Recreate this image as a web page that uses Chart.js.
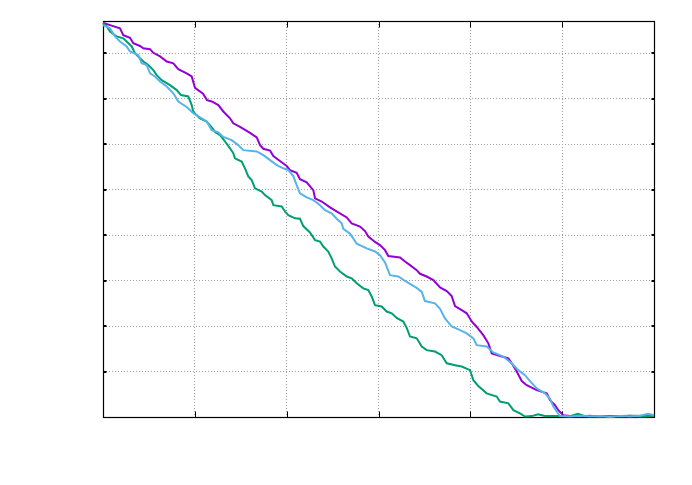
<!DOCTYPE html>
<html>
<head>
<meta charset="utf-8">
<script src="https://cdn.jsdelivr.net/npm/chart.js@4.4.1/dist/chart.umd.min.js"></script>
<style>
  html, body { margin: 0; padding: 0; background: #fff; }
  #wrap { width: 692px; height: 485px; }
</style>
</head>
<body>
<div id="wrap"><canvas id="plot" width="692" height="485"></canvas></div>
<script>
// values (x: 0..60, y: 0..87.1)
const xPurple = [0,0.76,1.85,2.21,2.94,3.30,4.03,4.39,5.12,5.48,
  6.21,6.94,7.66,8.20,9.11,9.66,10.02,10.89,11.33,11.84,
  12.56,13.10,13.83,14.19,14.92,16.01,16.74,17.10,17.46,18.19,
  18.55,19.27,20.00,20.36,21.09,21.45,22.18,22.90,23.09,23.82,
  24.72,25.62,26.54,27.08,27.99,28.53,28.89,29.62,30.16,30.71,
  31.07,32.34,32.89,33.43,34.16,34.52,35.25,35.97,36.70,37.43,
  37.97,38.33,39.06,39.61,40.15,40.69,41.41,41.96,42.33,43.23,
  44.14,44.51,45.05,45.60,46.14,47.23,48.32,48.68,49.22,49.58,
  50.13,50.85,51.94,53.03,54.12,55.21,56.30,57.39,58.48,60];
const yPurple = [86.7,86.2,85.5,84.0,83.4,82.2,81.6,81.1,80.9,80.1,
  79.3,78.2,77.8,76.5,75.6,74.9,72.4,71.1,69.7,69.4,
  68.6,67.2,65.7,64.6,63.8,62.5,61.5,59.8,59.0,58.6,
  57.4,56.3,55.2,54.3,53.7,52.3,51.6,49.9,48.1,47.4,
  46.1,45.0,43.9,42.6,41.9,40.9,39.7,38.5,37.8,36.7,
  35.4,35.1,34.2,33.4,32.3,31.5,30.9,30.1,28.5,27.7,
  26.6,24.4,23.5,22.8,21.0,19.8,18.0,16.2,14.0,13.4,
  12.9,11.8,10.0,7.9,7.0,5.9,5.2,3.7,2.6,1.5,
  0.4,0.2,0.1,0.3,0.0,0.2,0.1,0.3,0.0,0.2];

const xGreen = [0,0.40,0.76,1.49,2.21,2.58,3.13,3.48,4.03,4.39,
  4.93,5.48,5.85,6.39,7.30,8.03,8.49,9.29,9.66,9.83,
  10.56,11.29,11.84,12.20,12.74,13.29,13.83,14.19,14.37,15.10,
  15.46,15.82,16.19,16.55,17.28,17.64,18.37,18.55,19.46,19.82,
  20.18,20.91,21.45,21.81,22.54,23.09,23.63,23.99,24.53,24.90,
  25.26,25.81,26.54,27.08,27.63,28.35,28.89,29.26,29.62,30.35,
  30.89,31.44,31.98,32.70,33.07,33.43,34.16,34.71,35.25,36.15,
  36.88,37.43,38.33,39.06,39.97,40.33,40.87,41.78,42.87,43.23,
  44.14,44.69,45.41,45.95,
  46.72,47.37,48.13,49.77,50.85,51.72,52.48,54.12,56.30,57.93,60];
const yGreen = [86.6,85.9,84.8,83.7,83.3,82.6,81.5,80.0,78.9,78.2,
  77.4,76.3,75.2,74.1,73.0,71.9,70.8,70.5,68.6,67.1,
  65.7,65.0,63.7,62.7,62.0,60.6,59.1,58.0,56.9,56.2,
  54.7,52.9,52.1,50.3,49.6,48.8,47.7,46.6,46.3,45.2,
  44.4,43.7,43.6,42.0,40.6,38.9,38.6,37.5,36.4,34.9,
  33.1,32.0,30.9,30.5,29.4,28.3,27.9,26.5,24.6,24.3,
  23.2,22.8,21.8,21.0,19.6,17.7,17.3,15.5,14.7,14.4,
  13.6,11.8,11.4,11.1,10.3,8.1,6.8,5.2,4.5,3.4,
  3.0,1.5,0.8,0.1,
  0.2,0.6,0.2,0.2,0.2,0.7,0.2,0.2,0.2,0.3,0.2];

const xBlue = [0,0.76,1.31,1.85,2.58,2.94,3.84,4.21,4.76,5.12,
  5.66,6.21,6.94,7.66,8.20,9.11,9.83,10.75,11.29,11.84,
  12.56,13.10,14.01,14.73,15.28,16.74,17.46,18.19,18.92,19.63,
  20.18,20.72,21.09,21.45,22.18,22.90,23.45,24.17,24.90,25.45,
  25.99,26.17,26.90,27.63,28.72,29.62,30.16,30.71,31.25,32.16,
  33.07,34.16,34.71,35.06,36.15,36.70,37.24,37.97,38.88,39.61,
  40.33,40.69,41.78,42.50,43.59,44.51,45.22,45.95,46.50,47.23,
  48.13,48.68,49.04,49.40,49.76,
  50.85,51.94,53.03,54.12,55.21,56.30,57.39,58.48,59.35,60];
const yBlue = [86.2,85.5,83.7,82.6,81.5,80.4,79.6,77.8,77.4,75.6,
  74.9,73.8,72.7,71.2,69.4,68.2,66.8,65.7,65.0,63.1,
  62.6,61.6,60.9,59.8,58.7,58.4,57.6,56.5,55.4,54.7,
  54.3,53.0,51.0,49.2,48.3,47.7,46.9,45.5,44.8,43.6,
  42.6,41.4,40.3,38.1,37.1,36.4,35.6,34.0,31.2,30.9,
  29.7,28.4,27.5,25.5,25.0,23.8,21.7,19.9,19.1,18.4,
  17.3,15.8,15.5,14.2,13.3,11.8,10.3,9.2,7.9,6.3,
  5.2,4.0,2.3,1.2,0.2,
  0.1,0.3,0.1,0.2,0.0,0.2,0.1,0.3,0.7,0.4];

const xTickValues = [10, 20, 30, 40, 50];
const yTickValues = [10, 20, 30, 40, 50, 60, 70, 80];

const pts = (xs, ys) => xs.map((x, i) => ({ x: x, y: ys[i] }));

// gnuplot style frame with inward ticks on all four sides
const frame = {
  id: 'frame',
  beforeDatasetsDraw(chart) {
    const { ctx, chartArea: a, scales: { x, y } } = chart;
    const L = Math.round(a.left) + 0.5, R = Math.round(a.right) + 0.5;
    const T = Math.round(a.top) + 0.5, B = Math.round(a.bottom) + 0.5;
    ctx.save();
    ctx.strokeStyle = '#000';
    ctx.fillStyle = '#000';
    ctx.lineWidth = 1;
    ctx.beginPath();
    xTickValues.forEach(v => {
      const px = Math.round(x.getPixelForValue(v)) + 0.5;
      ctx.moveTo(px, B); ctx.lineTo(px, B - 6);
      ctx.moveTo(px, T); ctx.lineTo(px, T + 6);
    });
    ctx.stroke();
    yTickValues.forEach(v => {
      const py = Math.round(y.getPixelForValue(v));
      ctx.fillRect(L, py - 1, 3, 2);
      ctx.fillRect(R - 3, py - 1, 3, 2);
    });
    ctx.lineWidth = 1.2;
    ctx.strokeRect(L, T, R - L, B - T);
    ctx.restore();
  }
};

const line = (data, color, order) => ({
  data: data,
  borderColor: color,
  borderWidth: 2,
  pointRadius: 0,
  tension: 0,
  fill: false,
  clip: 3,
  order: order
});

new Chart(document.getElementById('plot'), {
  type: 'line',
  data: {
    datasets: [
      line(pts(xPurple, yPurple), '#9400d3', 3),
      line(pts(xGreen, yGreen), '#009e73', 2),
      line(pts(xBlue, yBlue), '#56b4e9', 1)
    ]
  },
  options: {
    responsive: false,
    animation: false,
    layout: { padding: { left: 103, top: 21, right: 38, bottom: 68 } },
    plugins: { legend: { display: false }, tooltip: { enabled: false } },
    scales: {
      x: {
        type: 'linear', min: 0, max: 60,
        ticks: { display: false, stepSize: 10 },
        grid: { color: '#a0a0a0', lineWidth: 1, drawTicks: false },
        border: { display: false, dash: [1, 2] }
      },
      y: {
        type: 'linear', min: 0, max: 87.1,
        ticks: { display: false, stepSize: 10 },
        grid: { color: '#a0a0a0', lineWidth: 1, drawTicks: false },
        border: { display: false, dash: [1, 2] }
      }
    }
  },
  plugins: [frame]
});
</script>
</body>
</html>
